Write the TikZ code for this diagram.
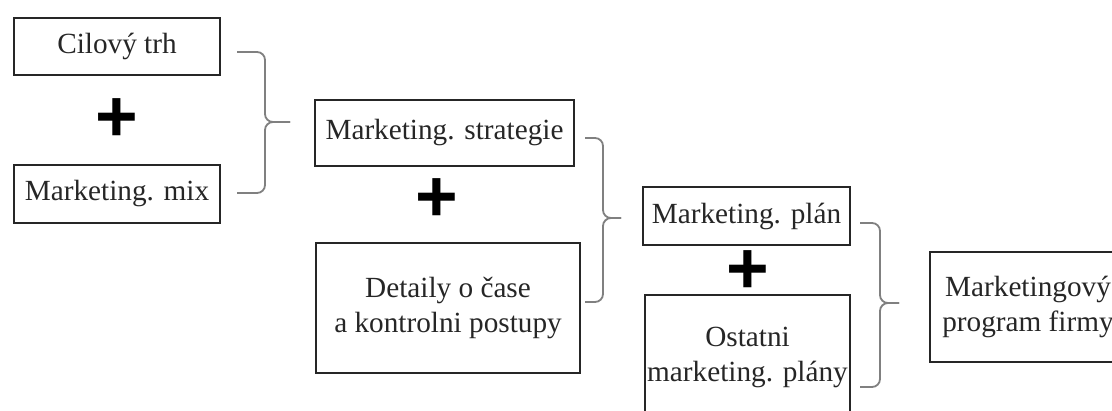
\documentclass[tikz,border=0pt]{standalone}
\usepackage{fontspec}
\setmainfont{Liberation Serif}
\setsansfont{Liberation Sans}
\usepackage{tikz}
\usetikzlibrary{positioning,calc}

\begin{document}
\begin{tikzpicture}[
  x=0.025cm, y=-0.025cm,
  font=\fontsize{20.8}{25.5}\selectfont,
  box/.style={draw=black!85, line width=1.1pt, inner sep=1pt, align=center,
              text=black!85},
  plus/.style={font=\fontsize{52}{52}\selectfont\sffamily\bfseries, inner sep=0pt},
  brc/.style={draw=black!50, line width=1.3pt, rounded corners=0.2cm},
]
\useasboundingbox (0,0) rectangle (1112,410);

%% ---------- first level ----------
\node[box, minimum width=5.15cm, minimum height=1.425cm] (cil) at (117,46.5) {Cilový trh};
\node[plus] (p1) at (117,120) {+};
\node[box, minimum width=5.15cm, minimum height=1.45cm] (mix) at (117,194) {Marketing. mix};

%% ---------- second level ----------
\node[box, minimum width=6.475cm, minimum height=1.65cm] (strat) at (444.5,133) {Marketing. strategie};
\node[plus] (p2) at (437,200) {+};
\node[box, minimum width=6.6cm, minimum height=3.25cm] (det) at (448,308) {Detaily o čase\\a kontrolni postupy};

%% ---------- third level ----------
\node[box, minimum width=5.175cm, minimum height=1.45cm] (plan) at (746.5,216) {Marketing. plán};
\node[plus] (p3) at (748,272) {+};
\node[box, minimum width=5.125cm, minimum height=3.125cm] (ost) at (747.5,357.5) {Ostatni\\marketing. plány};

%% ---------- result ----------
\node[box, minimum width=4.9cm, minimum height=2.75cm] (prog) at (1028,307) {Marketingový\\program firmy};

%% ---------- braces ----------
\foreach \n/\xa/\xb/\xc/\ya/\ym/\yb in {
  1/237/265/290/52/122/193, 2/585/603/621/138/218/302, 3/860/880/899/223/303/387}
{
  \coordinate (br\n t) at (\xa,\ya);
  \coordinate (br\n b) at (\xa,\yb);
  \coordinate (br\n m) at (\xb,\ym);
  \coordinate (br\n x) at (\xc,\ym);
  \draw[brc] (br\n t) -| (br\n m) -- (br\n x);
  \draw[brc] (br\n b) -| (br\n m) -- (br\n x);
}

\end{tikzpicture}
\end{document}
